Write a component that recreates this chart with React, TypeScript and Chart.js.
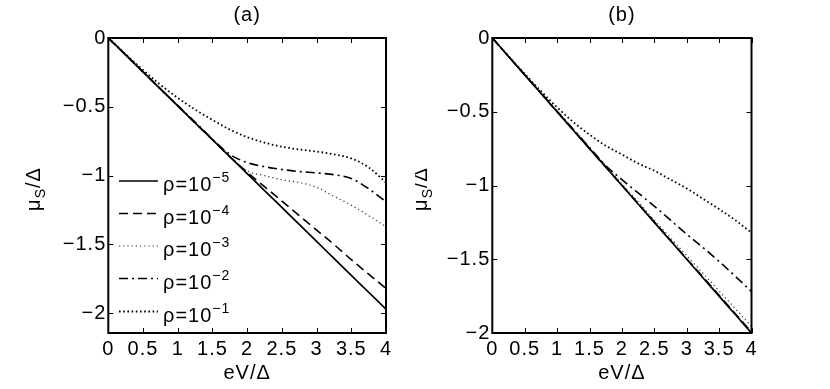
import React, { useEffect, useRef } from 'react';
import { Chart, registerables } from 'chart.js';

Chart.register(...registerables);

const FONT = "'Liberation Sans', Arial, Helvetica, sans-serif";
const FS = 20;
const FS_SMALL = 14;

// ---- data ----
const xValues = [0, 0.25, 0.5, 0.75, 1, 1.25, 1.5, 1.75, 2, 2.25, 2.5, 2.75, 3, 3.25, 3.5, 3.75, 4];
const xTickValues = [0, 0.5, 1, 1.5, 2, 2.5, 3, 3.5, 4];
const yTickValues = [0, -0.5, -1, -1.5, -2];
const seriesBase = ['ρ=10', 'ρ=10', 'ρ=10', 'ρ=10', 'ρ=10'];
const seriesExp = ['−5', '−4', '−3', '−2', '−1'];

// Panel (a)
const aRho5 = [0, -0.123, -0.246, -0.37, -0.493, -0.616, -0.739, -0.862, -0.985, -1.108, -1.231, -1.354, -1.478, -1.601, -1.724, -1.847, -1.97];
const aRho4 = [0, -0.123, -0.246, -0.37, -0.493, -0.616, -0.739, -0.862, -0.975, -1.08, -1.185, -1.29, -1.395, -1.5, -1.61, -1.715, -1.82];
const aRho3 = [0, -0.123, -0.246, -0.37, -0.493, -0.616, -0.739, -0.86, -0.965, -1.0, -1.03, -1.05, -1.085, -1.15, -1.215, -1.29, -1.37];
const aRho2 = [0, -0.123, -0.246, -0.37, -0.49, -0.61, -0.735, -0.845, -0.905, -0.935, -0.955, -0.97, -0.98, -0.993, -1.02, -1.095, -1.19];
const aRho1 = [0, -0.118, -0.232, -0.34, -0.435, -0.52, -0.595, -0.665, -0.72, -0.76, -0.79, -0.81, -0.825, -0.845, -0.875, -0.94, -1.05];

// Panel (b)
const bRho5 = [0, -0.125, -0.25, -0.375, -0.5, -0.625, -0.75, -0.875, -1.0, -1.125, -1.25, -1.375, -1.5, -1.625, -1.75, -1.875, -2.0];
const bRho4 = [0, -0.125, -0.25, -0.375, -0.5, -0.625, -0.75, -0.875, -0.998, -1.122, -1.247, -1.371, -1.496, -1.62, -1.745, -1.869, -1.994];
const bRho3 = [0, -0.124, -0.248, -0.372, -0.496, -0.619, -0.742, -0.866, -0.99, -1.11, -1.235, -1.355, -1.475, -1.595, -1.715, -1.835, -1.955];
const bRho2 = [0, -0.124, -0.248, -0.372, -0.496, -0.619, -0.742, -0.865, -0.96, -1.05, -1.14, -1.235, -1.33, -1.42, -1.515, -1.615, -1.72];
const bRho1 = [0, -0.123, -0.243, -0.36, -0.47, -0.57, -0.655, -0.73, -0.79, -0.85, -0.9, -0.96, -1.02, -1.09, -1.16, -1.235, -1.32];

// ---- styles ----
const lineStyles = [
  { dash: [] as number[], width: 1.7, color: '#000' },
  { dash: [9, 5], width: 1.6, color: '#000' },
  { dash: [1.2, 3], width: 1.2, color: '#333' },
  { dash: [9, 4, 2, 4], width: 1.6, color: '#000' },
  { dash: [1.6, 2.6], width: 1.8, color: '#000' },
];

const fmt = (v: number) => String(v).replace('-', '\u2212');

const spacingPlugin = {
  id: 'spacing',
  beforeDraw(chart: any) {
    chart.ctx.letterSpacing = '1px';
  },
};

const framePlugin = {
  id: 'frame',
  afterDraw(chart: any, _args: any, opts: any) {
    const { ctx, chartArea: ca, scales } = chart;
    const xs = scales.x;
    const ys = scales.y;
    ctx.save();
    ctx.strokeStyle = '#000';
    ctx.lineWidth = 1;
    ctx.setLineDash([]);
    ctx.beginPath();
    const tl = 5;
    for (const v of xTickValues) {
      const px = Math.round(xs.getPixelForValue(v)) + 0.5;
      ctx.moveTo(px, ca.bottom);
      ctx.lineTo(px, ca.bottom - tl);
      ctx.moveTo(px, ca.top);
      ctx.lineTo(px, ca.top + tl);
    }
    for (const v of yTickValues) {
      const py = Math.round(ys.getPixelForValue(v)) + 0.5;
      ctx.moveTo(ca.left, py);
      ctx.lineTo(ca.left + tl, py);
      ctx.moveTo(ca.right, py);
      ctx.lineTo(ca.right - tl, py);
    }
    ctx.stroke();
    ctx.lineWidth = 2;
    ctx.strokeRect(ca.left, ca.top, ca.right - ca.left, ca.bottom - ca.top);

    // y-axis title  μ_S/Δ  (rotated)
    ctx.fillStyle = '#000';
    ctx.textBaseline = 'alphabetic';
    ctx.textAlign = 'left';
    const big = `${FS}px ${FONT}`;
    const small = `${FS_SMALL}px ${FONT}`;
    ctx.font = big;
    const w1 = ctx.measureText('μ').width;
    const w3 = ctx.measureText('/Δ').width;
    ctx.font = small;
    const w2 = ctx.measureText('S').width;
    const total = w1 + w2 + w3;
    ctx.save();
    ctx.translate(opts.yTitleX, opts.yTitleY);
    ctx.rotate(-Math.PI / 2);
    let cx = -total / 2;
    ctx.font = big;
    ctx.fillText('μ', cx, 0);
    cx += w1;
    ctx.font = small;
    ctx.fillText('S', cx, 5);
    cx += w2;
    ctx.font = big;
    ctx.fillText('/Δ', cx, 0);
    ctx.restore();

    // legend
    if (opts.legend) {
      const rows = [181, 213.5, 246, 278.5, 311.5];
      chart.data.datasets.forEach((ds: any, i: number) => {
        const ry = rows[i];
        ctx.save();
        ctx.strokeStyle = ds.borderColor;
        ctx.lineWidth = ds.borderWidth;
        ctx.setLineDash(ds.borderDash || []);
        ctx.beginPath();
        ctx.moveTo(119, ry);
        ctx.lineTo(158, ry);
        ctx.stroke();
        ctx.restore();
        ctx.fillStyle = '#000';
        ctx.font = big;
        ctx.fillText(seriesBase[i], 163, ry + 10);
        const bw = ctx.measureText(seriesBase[i]).width;
        ctx.font = small;
        ctx.fillText(seriesExp[i], 163 + bw, ry + 1);
      });
    }
    ctx.restore();
  },
};

function makeConfig(series: number[][], title: string, yMin: number, yWidth: number, rightPad: number, yTitleX: number, legend: boolean) {
  return {
    type: 'line' as const,
    data: {
      datasets: series.map((arr, i) => ({
        label: seriesBase[i] + seriesExp[i],
        data: xValues.map((x, j) => ({ x, y: arr[j] })),
        borderColor: lineStyles[i].color,
        borderWidth: lineStyles[i].width,
        borderDash: lineStyles[i].dash,
        borderCapStyle: 'butt' as const,
        pointRadius: 0,
        cubicInterpolationMode: 'monotone' as const,
        fill: false,
      })),
    },
    options: {
      animation: false as const,
      responsive: false,
      maintainAspectRatio: false,
      layout: { padding: { left: 0, right: rightPad, top: 0, bottom: 0 } },
      plugins: {
        legend: { display: false },
        tooltip: { enabled: false },
        title: {
          display: true,
          text: title,
          fullSize: false,
          color: '#000',
          font: { family: FONT, size: FS, weight: 'normal' as const, lineHeight: 1.2 },
          padding: { top: 3, bottom: 11 },
        },
        frame: { yTitleX, yTitleY: 189, legend },
      },
      scales: {
        x: {
          type: 'linear' as const,
          min: 0,
          max: 4,
          grid: { display: false, drawTicks: false },
          border: { display: false },
          afterBuildTicks: (s: any) => { s.ticks = xTickValues.map((v) => ({ value: v })); },
          afterFit: (s: any) => { s.height = 56; },
          ticks: {
            autoSkip: false,
            maxRotation: 0,
            padding: 4,
            color: '#000',
            font: { family: FONT, size: FS },
            callback: (v: any) => fmt(Number(v)),
          },
          title: {
            display: true,
            text: 'eV/Δ',
            color: '#000',
            font: { family: FONT, size: FS, lineHeight: 1.2 },
            padding: { top: 0, bottom: 4 },
          },
        },
        y: {
          type: 'linear' as const,
          min: yMin,
          max: 0,
          grid: { display: false, drawTicks: false },
          border: { display: false },
          afterBuildTicks: (s: any) => { s.ticks = yTickValues.map((v) => ({ value: v })); },
          afterFit: (s: any) => { s.width = yWidth; },
          ticks: {
            padding: 2,
            color: '#000',
            font: { family: FONT, size: FS },
            callback: (v: any) => fmt(Number(v)),
          },
        },
      },
    },
    plugins: [spacingPlugin, framePlugin],
  };
}

function Panel(props: { cfg: any; left: number }) {
  const ref = useRef<HTMLCanvasElement>(null);
  useEffect(() => {
    if (!ref.current) return;
    const chart = new Chart(ref.current, props.cfg);
    return () => chart.destroy();
  }, []);
  return (
    <canvas
      ref={ref}
      width={415}
      height={389}
      style={{ position: 'absolute', left: props.left, top: 0, width: 415, height: 389, display: 'block' }}
    />
  );
}

export default function App() {
  const cfgA = makeConfig([aRho5, aRho4, aRho3, aRho2, aRho1], '(a)', -2.143, 108.3, 29, 40, true);
  const cfgB = makeConfig([bRho5, bRho4, bRho3, bRho2, bRho1], '(b)', -2, 77.3, 78.5, 12, false);
  return (
    <div style={{ position: 'absolute', left: 0, top: 0, width: 830, height: 389, background: '#fff', overflow: 'hidden' }}>
      <Panel cfg={cfgA} left={0} />
      <Panel cfg={cfgB} left={415} />
    </div>
  );
}
